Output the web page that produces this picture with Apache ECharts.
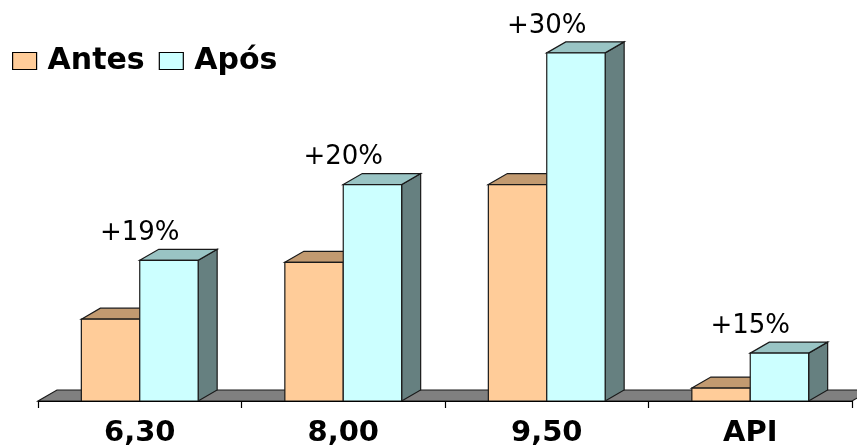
<!DOCTYPE html>
<html>
<head>
<meta charset="utf-8">
<script src="https://cdn.jsdelivr.net/npm/echarts@6/dist/echarts.min.js"></script>
<style>
  html, body { margin: 0; padding: 0; background: #fff; }
  #chart { width: 857px; height: 448px; }
</style>
</head>
<body>
<div id="chart"></div>
<script>
// values (hidden axis, arbitrary units)
const categories = ['6,30', '8,00', '9,50', 'API'];
const antes = [82, 139, 217, 13];
const apos = [141, 217, 349, 48];
const gains = ['+19%', '+20%', '+30%', '+15%'];

// 3d depth offset
const DX = 19, DY = -11;
const EDGE = '#1a1a1a';

const makeBar = (left, front, top, side, labels) => (params, api) => {
  const i = api.value(0);
  const pTop = api.coord([i, api.value(1)]);
  const pBase = api.coord([i, 0]);
  const band = api.size([1, 0])[0];
  const w = band * 0.287;
  const xl = left ? pTop[0] - w : pTop[0];
  const xr = xl + w;
  const yt = pTop[1], yb = pBase[1];
  const st = (c) => ({ fill: c, stroke: EDGE, lineWidth: 1.2 });
  let children = [
    { type: 'polygon', shape: { points: [[xr, yt], [xr + DX, yt + DY], [xr + DX, yb + DY], [xr, yb]] }, style: st(side) },
    { type: 'polygon', shape: { points: [[xl, yt], [xl + DX, yt + DY], [xr + DX, yt + DY], [xr, yt]] }, style: st(top) },
    { type: 'rect', shape: { x: xl, y: yt, width: w, height: yb - yt }, style: st(front) }
  ];
  if (labels) {
    children.push({
      type: 'text', x: pTop[0], y: yt + DY - 3,
      style: { text: labels[i], fill: '#000', fontFamily: 'DejaVu Sans', fontSize: 26, align: 'center', verticalAlign: 'bottom' }
    });
  }
  return { type: 'group', children: children };
};

const renderFloor = (params, api) => {
  const cs = params.coordSys;
  const x0 = cs.x, x1 = cs.x + cs.width, yb = cs.y + cs.height;
  return {
    type: 'polygon',
    shape: { points: [[x0, yb], [x0 + DX, yb + DY], [x1 + DX, yb + DY], [x1, yb]] },
    style: { fill: '#808080', stroke: EDGE, lineWidth: 1.2 }
  };
};

const chart = echarts.init(document.getElementById('chart'));
chart.setOption({
  animation: false,
  grid: { left: 38, right: 5, top: 2, bottom: 46 },
  legend: {
    left: 12, top: 46, padding: 0, icon: 'rect', itemWidth: 24, itemHeight: 17, itemGap: 14,
    selectedMode: false,
    textStyle: { fontFamily: 'DejaVu Sans', fontWeight: 'bold', fontSize: 30, color: '#000', padding: [0, 0, 0, 6] },
    data: [
      { name: 'Antes', itemStyle: { color: '#FFCC99', borderColor: '#000', borderWidth: 1.2 } },
      { name: 'Após', itemStyle: { color: '#CCFFFF', borderColor: '#000', borderWidth: 1.2 } }
    ]
  },
  xAxis: {
    type: 'category',
    data: categories,
    z: 5,
    axisLine: { show: true, lineStyle: { color: '#000', width: 1.2 } },
    axisTick: { show: true, interval: 0, alignWithLabel: false, length: 7, lineStyle: { color: '#000', width: 1.2 } },
    axisLabel: { fontFamily: 'DejaVu Sans', fontWeight: 'bold', fontSize: 29, color: '#000', margin: 18 },
    splitLine: { show: false }
  },
  yAxis: { type: 'value', min: 0, max: 400, show: false },
  series: [
    { name: 'floor', type: 'custom', renderItem: renderFloor, data: [[0, 0]], silent: true },
    {
      name: 'Antes', type: 'custom', itemStyle: { color: '#FFCC99' },
      renderItem: makeBar(true, '#FFCC99', '#C29A70', '#8A6A4C'),
      encode: { x: 0, y: 1 },
      data: antes.map((v, i) => [i, v])
    },
    {
      name: 'Após', type: 'custom', itemStyle: { color: '#CCFFFF' },
      renderItem: makeBar(false, '#CCFFFF', '#99C4C4', '#668080', gains),
      encode: { x: 0, y: 1 },
      data: apos.map((v, i) => [i, v])
    }
  ]
});
</script>
</body>
</html>
